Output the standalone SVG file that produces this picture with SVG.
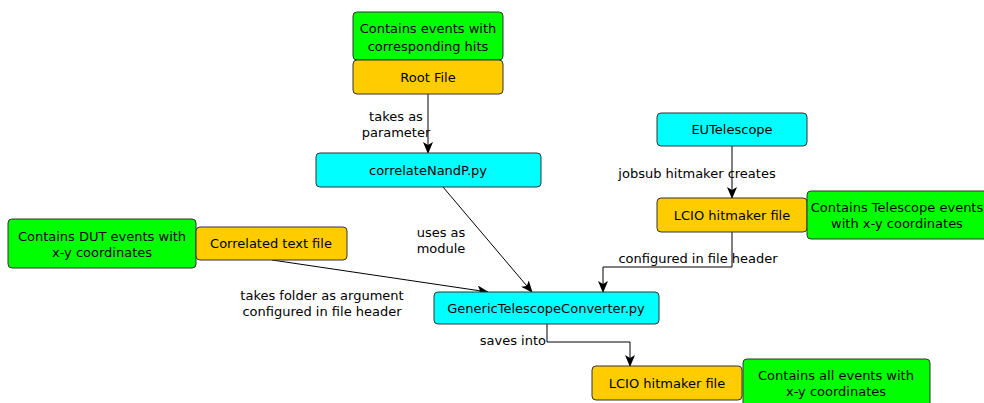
<svg xmlns="http://www.w3.org/2000/svg" width="984" height="403" viewBox="0 0 984 403">
  <defs>
    <marker id="arrow" viewBox="0 0 12 10" refX="11" refY="5" markerWidth="12" markerHeight="10" markerUnits="userSpaceOnUse" orient="auto">
      <path d="M0,0 L12,5 L0,10 L3,5 Z" fill="#000"/>
    </marker>
    <style>
      .box { stroke: #333; stroke-width: 1; }
      .green { fill: #00ff00; }
      .orange { fill: #ffcc00; }
      .cyan { fill: #00ffff; }
      text { font-family: "DejaVu Sans", "Noto Sans", sans-serif; font-size: 13px; fill: #000; text-anchor: middle; }
      .edge { fill: none; stroke: #000; stroke-width: 1; marker-end: url(#arrow); }
    </style>
  </defs>
  <rect width="984" height="403" fill="#fff"/>

  <g id="connectors">
    <path class="edge" d="M428,94 L428,153"/>
    <path class="edge" d="M443,187 L532,292"/>
    <path class="edge" d="M272,260 L488,292"/>
    <path class="edge" d="M732,146 L732,198"/>
    <path class="edge" d="M732,232 L732,267 L603,267 L603,292"/>
    <path class="edge" d="M547,324 L547,342 L630,342 L630,366"/>
    <text x="396" y="121">takes as</text>
    <text x="396" y="137">parameter</text>
    <text x="441" y="237">uses as</text>
    <text x="441" y="253">module</text>
    <text x="322" y="300">takes folder as argument</text>
    <text x="322" y="316">configured in file header</text>
    <text x="697" y="178">jobsub hitmaker creates</text>
    <text x="698" y="263">configured in file header</text>
    <text x="546" y="345" style="text-anchor:end">saves into</text>
  </g>

  <g id="root-info">
    <rect class="box green" x="353" y="12" width="150" height="48" rx="4"/>
    <text x="428" y="33">Contains events with</text>
    <text x="428" y="51">corresponding hits</text>
  </g>
  <g id="root-file">
    <rect class="box orange" x="353" y="60" width="150" height="34" rx="4"/>
    <text x="428" y="82">Root File</text>
  </g>
  <g id="correlate">
    <rect class="box cyan" x="316" y="153" width="225" height="34" rx="4"/>
    <text x="428" y="175">correlateNandP.py</text>
  </g>
  <g id="dut-info">
    <rect class="box green" x="8" y="219" width="188" height="49" rx="4"/>
    <text x="102" y="241">Contains DUT events with</text>
    <text x="102" y="257">x-y coordinates</text>
  </g>
  <g id="correlated-text">
    <rect class="box orange" x="196" y="227" width="151" height="33" rx="4"/>
    <text x="271" y="248">Correlated text file</text>
  </g>
  <g id="converter">
    <rect class="box cyan" x="434" y="292" width="225" height="32" rx="4"/>
    <text x="546" y="313">GenericTelescopeConverter.py</text>
  </g>
  <g id="eutelescope">
    <rect class="box cyan" x="657" y="113" width="150" height="33" rx="4"/>
    <text x="732" y="134">EUTelescope</text>
  </g>
  <g id="lcio-telescope">
    <rect class="box orange" x="657" y="198" width="150" height="34" rx="4"/>
    <text x="732" y="220">LCIO hitmaker file</text>
  </g>
  <g id="telescope-info">
    <rect class="box green" x="807" y="191" width="190" height="48" rx="4"/>
    <text x="897" y="212">Contains Telescope events</text>
    <text x="897" y="228">with x-y coordinates</text>
  </g>
  <g id="lcio-output">
    <rect class="box orange" x="592" y="366" width="150" height="34" rx="4"/>
    <text x="667" y="388">LCIO hitmaker file</text>
  </g>
  <g id="output-info">
    <rect class="box green" x="743" y="359" width="187" height="50" rx="4"/>
    <text x="836" y="380">Contains all events with</text>
    <text x="836" y="396">x-y coordinates</text>
  </g>
</svg>
